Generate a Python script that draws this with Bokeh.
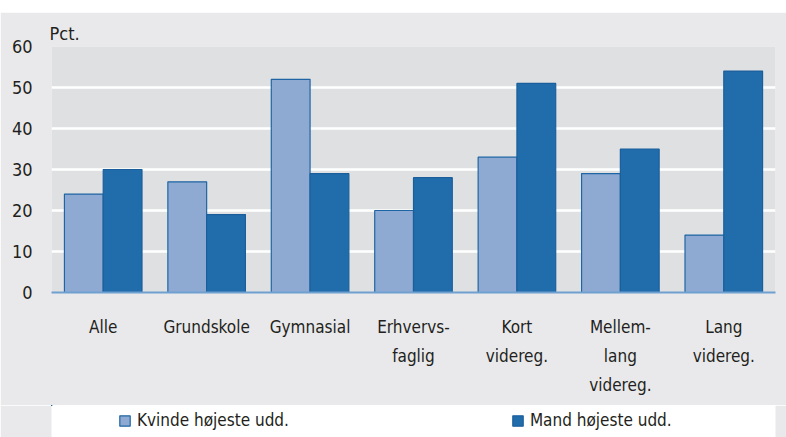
from bokeh.plotting import figure
from bokeh.models import ColumnDataSource, FactorRange, Legend, LegendItem, Title, Spacer, FixedTicker
from bokeh.layouts import column
from bokeh.transform import dodge
from bokeh.embed import file_html
from bokeh.resources import INLINE

categories = ["Alle", "Grundskole", "Gymnasial", "Erhvervs-\nfaglig", "Kort\nvidereg.",
              "Mellem-\nlang\nvidereg.", "Lang\nvidereg."]
kvinde = [24, 27, 52, 20, 33, 29, 14]
mand = [30, 19, 29, 28, 51, 35, 54]
y_ticks = [0, 10, 20, 30, 40, 50, 60]
series_names = ["Kvinde højeste udd.", "Mand højeste udd."]

FONT = "Liberation Sans Narrow, Arial Narrow, DejaVu Sans Condensed, Liberation Sans, sans-serif"
TXT = "#231f20"
FS = "17px"
BG = "#e9e9eb"
K_FILL, K_LINE = "#8eaad2", "#1f65a3"
M_FILL, M_LINE = "#216dab", "#1a5f9c"

src = ColumnDataSource(dict(cat=categories, kvinde=kvinde, mand=mand))

p = figure(x_range=FactorRange(*categories, range_padding=0), y_range=(0, 60),
           frame_width=724, frame_height=246, min_border_left=51, min_border_right=11,
           min_border_top=34, min_border_bottom=113,
           output_backend="svg", toolbar_location=None)
p.background_fill_color = "#dfe0e2"
p.border_fill_color = BG
p.outline_line_color = None

p.vbar(x=dodge("cat", -0.1875, range=p.x_range), top="kvinde", width=0.375, source=src,
       fill_color=K_FILL, line_color=K_LINE, line_width=1.2)
p.vbar(x=dodge("cat", 0.1875, range=p.x_range), top="mand", width=0.375, source=src,
       fill_color=M_FILL, line_color=M_LINE, line_width=1.2)

p.xgrid.grid_line_color = None
p.ygrid.grid_line_color = "white"
p.ygrid.grid_line_width = 2.5
p.ygrid.ticker = FixedTicker(ticks=y_ticks)

p.yaxis.ticker = FixedTicker(ticks=y_ticks)
p.yaxis.axis_line_color = None
p.yaxis.major_tick_line_color = None
p.yaxis.minor_tick_line_color = None
p.yaxis.major_label_standoff = 13
p.yaxis.major_label_text_font = FONT
p.yaxis.major_label_text_font_size = "18px"
p.yaxis.major_label_text_color = TXT

p.xaxis.axis_line_color = "#6fa0cf"
p.xaxis.axis_line_width = 2
p.xaxis.major_tick_line_color = None
p.xaxis.minor_tick_line_color = None
p.xaxis.major_label_standoff = 18
p.xaxis.major_label_text_font = FONT
p.xaxis.major_label_text_font_size = FS
p.xaxis.major_label_text_color = TXT
p.xaxis.major_label_text_line_height = 1.45

p.add_layout(Title(text="Pct.", align="left", offset=-2, standoff=6, text_font=FONT,
                   text_font_size="18px", text_font_style="normal", text_color=TXT), "above")

# legend strip below the chart (its bars are placed out of view; only the legend shows)
lf = figure(width=786, height=32, x_range=FactorRange(*categories), y_range=(-20, -10),
            x_axis_type=None, y_axis_type=None,
            min_border=0, output_backend="svg", toolbar_location=None)
lf.grid.visible = False
lf.background_fill_color = None
lf.border_fill_color = BG
lf.outline_line_color = None
lr1 = lf.vbar(x=dodge("cat", -50, range=lf.x_range), top="kvinde", width=0.375, source=src,
              fill_color=K_FILL, line_color=K_LINE, line_width=1.2)
lr2 = lf.vbar(x=dodge("cat", -50, range=lf.x_range), top="mand", width=0.375, source=src,
              fill_color=M_FILL, line_color=M_LINE, line_width=1.2)
legend = Legend(items=[LegendItem(label=series_names[0], renderers=[lr1]),
                       LegendItem(label=series_names[1], renderers=[lr2])],
                orientation="horizontal", location=(67, 7), spacing=222,
                padding=0, margin=0, glyph_width=13, glyph_height=13, label_standoff=6,
                border_line_color=None, background_fill_alpha=0,
                label_text_font=FONT, label_text_font_size=FS, label_text_color=TXT)
lf.add_layout(legend, "center")

layout = column(Spacer(height=12), p, lf)
open("out.html", "w").write(file_html(layout, INLINE))
